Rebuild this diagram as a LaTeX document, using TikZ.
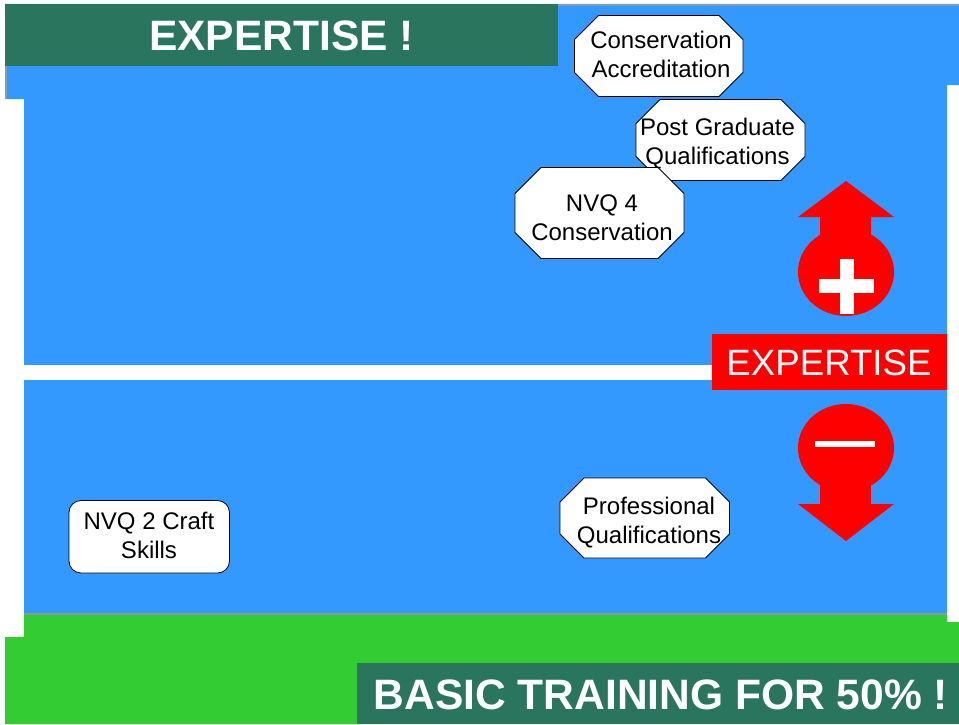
\documentclass[tikz,border=0pt]{standalone}
\usepackage{fontspec}
\setmainfont{Liberation Sans}
\definecolor{skyb}{HTML}{3399FF}
\definecolor{grn}{HTML}{33CC33}
\definecolor{teal2}{HTML}{2A755E}
\definecolor{edgeg}{HTML}{7F9FB5}
\definecolor{edgeb}{HTML}{85A090}
\tikzset{
  lbl/.style={align=center,font=\fontsize{18}{21.75}\selectfont,text=black,inner sep=0pt},
  octo/.style={draw=black,line width=0.6pt,fill=white},
  banner/.style={font=\bfseries\fontsize{31.9}{36}\selectfont,text=white,inner sep=0pt,anchor=base},
}
\newcommand{\octagon}[5]{% x1 y1 x2 y2 c
  \draw[octo] (#1+#5,#2) -- (#3-#5,#2) -- (#3,#2+#5) -- (#3,#4-#5) -- (#3-#5,#4) -- (#1+#5,#4) -- (#1,#4-#5) -- (#1,#2+#5) -- cycle;}
\begin{document}
\begin{tikzpicture}[x=0.75pt,y=-0.75pt]
\useasboundingbox (0,0) rectangle (959,724);
\fill[white] (0,0) rectangle (959,724);
% blue field
\fill[skyb] (5,4) -- (959,4) -- (959,85) -- (947,85) -- (947,614) -- (24,614) -- (24,99) -- (5,99) -- cycle;
\fill[edgeg] (558,4) rectangle (959,6);
\fill[edgeg] (5,66) rectangle (7,99);
% strip
\fill[white] (24,365) rectangle (712,380);
% green
\fill[grn] (24,614) -- (947,614) -- (947,622) -- (959,622) -- (959,724) -- (5,724) -- (5,637) -- (24,637) -- cycle;
\fill[edgeb] (24,612.8) rectangle (947,615);
% banners
\fill[teal2] (5,4) rectangle (558,66);
\fill[teal2] (357,663) rectangle (959,724);
\node[banner] (toptext) at (281.5,50.5) {EXPERTISE !};
\node[banner] (bottext) at (661,709) {BASIC TRAINING FOR 50\% !};
% octagons
\octagon{574.5}{15.5}{743}{96.5}{24}
\node[lbl] (cons) at (661,54) {Conservation\\Accreditation};
\octagon{636}{99.5}{805}{180.5}{24}
\node[lbl] (post) at (717.5,144) {Post Graduate\\Qualifications};
\octagon{515}{167.5}{684}{258.5}{26}
\node[lbl] (nvq4) at (602,218) {NVQ 4\\Conservation};
\octagon{560}{478}{729.5}{558}{24}
\node[lbl] (prof) at (649,523) {Professional\\Qualifications};
\draw[octo,rounded corners=9pt] (69,500.5) rectangle (229.5,573);
\node[lbl] (nvq2) at (149,535) {NVQ 2 Craft\\Skills};
% plus
\fill[red] (846,181) -- (894,217) -- (871,217) -- (871,240) -- (820,240) -- (820,217) -- (798,217) -- cycle;
\fill[red] (846,272) ellipse [x radius=48,y radius=44];
\fill[white] (839.5,259) rectangle (854,313.5);
\fill[white] (819,279) rectangle (874,293);
% expertise
\fill[red] (712,334) rectangle (947,390);
\node[font=\fontsize{27.5}{30}\selectfont,text=white,inner sep=0pt,anchor=base] (expt) at (829,375.5) {EXPERTISE};
% minus
\fill[red] (846,448) ellipse [x radius=48,y radius=44];
\fill[red] (820,480) rectangle (871,505);
\fill[red] (798,504) -- (894,504) -- (846,541) -- cycle;
\fill[white] (815,441) rectangle (875,447);
\end{tikzpicture}
\end{document}
